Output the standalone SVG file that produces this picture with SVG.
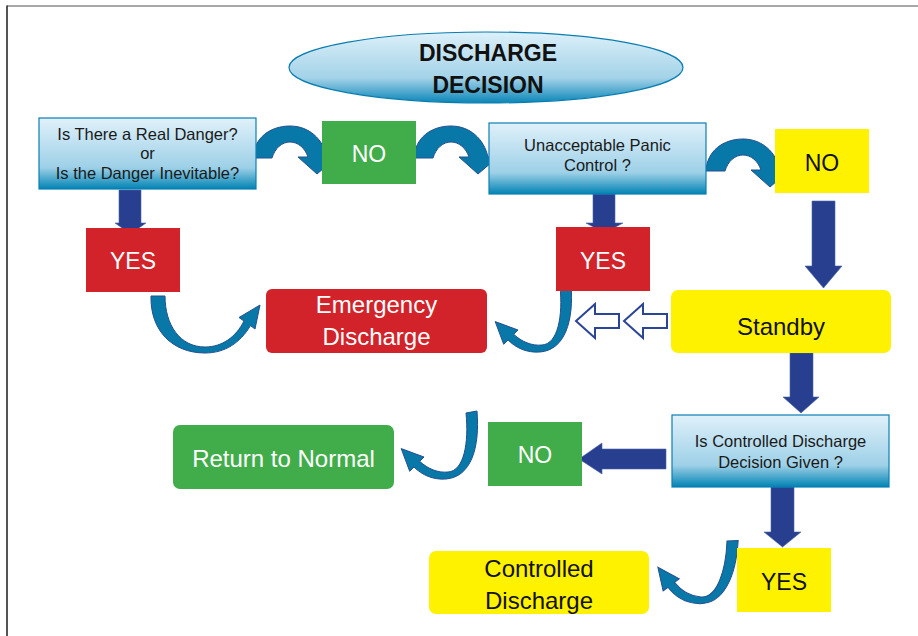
<svg xmlns="http://www.w3.org/2000/svg" xmlns:xlink="http://www.w3.org/1999/xlink" width="918" height="636" viewBox="0 0 918 636">
<style>
text{font-family:"Liberation Sans",Arial,sans-serif;text-anchor:middle}
.q{font-size:16.5px;fill:#1a1a1a}
.w{font-size:23px;fill:#fff}
.b{font-size:23px;fill:#111}
.t{font-size:23px;font-weight:bold;fill:#111}
.box{fill:url(#boxg);stroke:#0a7fb5;stroke-width:1.2}
.red{fill:#d2232a}
.grn{fill:#40ad4a}
.yel{fill:#fff200}
.blk{fill:#283f8f;stroke:#4a64a8;stroke-width:0.6}
.crv{fill:#0878a8;stroke:#24508f;stroke-width:1}
.hol{fill:#fff;stroke:#2b4596;stroke-width:2}
</style>
<defs>
<linearGradient id="boxg" x1="0" y1="0" x2="0" y2="1">
<stop offset="0" stop-color="#e0f1fa"/>
<stop offset="0.7" stop-color="#9dd0e7"/>
<stop offset="1" stop-color="#0083b3"/>
</linearGradient>
<linearGradient id="ellg" x1="0" y1="0" x2="0" y2="1">
<stop offset="0" stop-color="#dcf0f9"/>
<stop offset="0.65" stop-color="#a3d2e8"/>
<stop offset="1" stop-color="#0a86b7"/>
</linearGradient>
<path id="arc" d="M253,158 C254,138 270,126 290,126 C309,126 323,139 327,157 L337,157 L317,174 L298,157 L308,157 C305,148 298,142 290,142 C282,142 275,148 272,158 Z"/>
<path id="jhook" d="M0,0 L11,-2 C14,35 5,64 -20,66 C-33,67 -44,62 -52,54 L-56.3,58.3 L-64.8,35.6 L-42,44 L-46.3,48.3 C-38,56 -28,60 -18,59 C-2,58 3,30 0,0 Z"/>
</defs>
<rect width="918" height="636" fill="#fff"/>
<line x1="7" y1="6" x2="918" y2="6" stroke="#8a8a8a" stroke-width="1.6"/>
<line x1="7" y1="5.5" x2="7" y2="636" stroke="#2a2a2a" stroke-width="1.6"/>

<g id="connectors">
<use xlink:href="#arc" class="crv"/>
<use xlink:href="#arc" class="crv" transform="translate(161,0)"/>
<use xlink:href="#arc" class="crv" transform="translate(453,13)"/>
<polygon class="blk" points="119,190 141,190 141,223 146,223 130.5,234 115,223 119,223"/>
<polygon class="blk" points="593,194 615,194 615,223 623,223 604.5,233 586,223 593,223"/>
<polygon class="blk" points="812,201 835,201 835,266 842,266 823.5,288 805,266 812,266"/>
<polygon class="blk" points="790,353 813,353 813,397 819,397 801,413 783,397 790,397"/>
<polygon class="blk" points="771,487 794,487 794,532 801,532 782.5,547 764,532 771,532"/>
<polygon class="blk" points="666,449 666,469 602,469 602,474 579,459 602,443 602,449"/>
<path class="crv" d="M151,296 L165,296 C165,325 180,347 205,347 C222,347 236,337 244,321 L239,317.5 L260,305 L255,329 L250.5,325.6 C240,343 225,353 205,353 C172,353 150,330 151,296 Z"/>
<use xlink:href="#jhook" class="crv" transform="translate(560,286)"/>
<use xlink:href="#jhook" class="crv" transform="translate(466,413)"/>
<use xlink:href="#jhook" class="crv" transform="translate(727,541) rotate(8)"/>
<polygon class="hol" points="576,321 595,304 595,314 619,314 619,328 595,328 595,338"/>
<polygon class="hol" points="624,321 643,304 643,314 667,314 667,328 643,328 643,338"/>
</g>

<g id="title">
<ellipse cx="486" cy="67.5" rx="197" ry="35.5" fill="url(#ellg)" stroke="#0a7db0" stroke-width="1.2"/>
<text class="t" x="488" y="61">DISCHARGE</text>
<text class="t" x="488" y="93">DECISION</text>
</g>
<g id="q1">
<rect class="box" x="39" y="118" width="217" height="71"/>
<text class="q" x="147.5" y="140">Is There a Real Danger?</text>
<text class="q" x="147.5" y="159">or</text>
<text class="q" x="147.5" y="179">Is the Danger Inevitable?</text>
</g>
<g id="no1">
<rect class="grn" x="322" y="121" width="94" height="63"/>
<text class="w" x="369" y="162">NO</text>
</g>
<g id="q2">
<rect class="box" x="489" y="123" width="217" height="71"/>
<text class="q" x="597.5" y="151">Unacceptable Panic</text>
<text class="q" x="597.5" y="171">Control ?</text>
</g>
<g id="no2">
<rect class="yel" x="775" y="129" width="94" height="64"/>
<text class="b" x="822" y="171">NO</text>
</g>
<g id="yes1">
<rect class="red" x="86" y="228" width="94" height="64"/>
<text class="w" x="133" y="269">YES</text>
</g>
<g id="yes2">
<rect class="red" x="556" y="227" width="94" height="64"/>
<text class="w" x="603" y="269">YES</text>
</g>
<g id="emergency">
<rect class="red" x="266" y="289" width="221" height="64" rx="6"/>
<text class="w" x="376.5" y="313" style="font-size:24px">Emergency</text>
<text class="w" x="376.5" y="345" style="font-size:24px">Discharge</text>
</g>
<g id="standby">
<rect class="yel" x="671" y="290" width="220" height="63" rx="7"/>
<text class="b" x="781" y="335" style="font-size:24px">Standby</text>
</g>
<g id="q3">
<rect class="box" x="672" y="415" width="217" height="72"/>
<text class="q" x="780.5" y="447">Is Controlled Discharge</text>
<text class="q" x="780.5" y="468">Decision Given ?</text>
</g>
<g id="no3">
<rect class="grn" x="488" y="422" width="94" height="64"/>
<text class="w" x="535" y="463">NO</text>
</g>
<g id="normal">
<rect class="grn" x="173" y="425" width="221" height="64" rx="7"/>
<text class="w" x="283.5" y="467" style="font-size:24px">Return to Normal</text>
</g>
<g id="yes3">
<rect class="yel" x="737" y="548" width="94" height="64"/>
<text class="b" x="784" y="590">YES</text>
</g>
<g id="controlled">
<rect class="yel" x="429" y="551" width="220" height="63" rx="7"/>
<text class="b" x="539" y="577" style="font-size:24px">Controlled</text>
<text class="b" x="539" y="609" style="font-size:24px">Discharge</text>
</g>
</svg>
